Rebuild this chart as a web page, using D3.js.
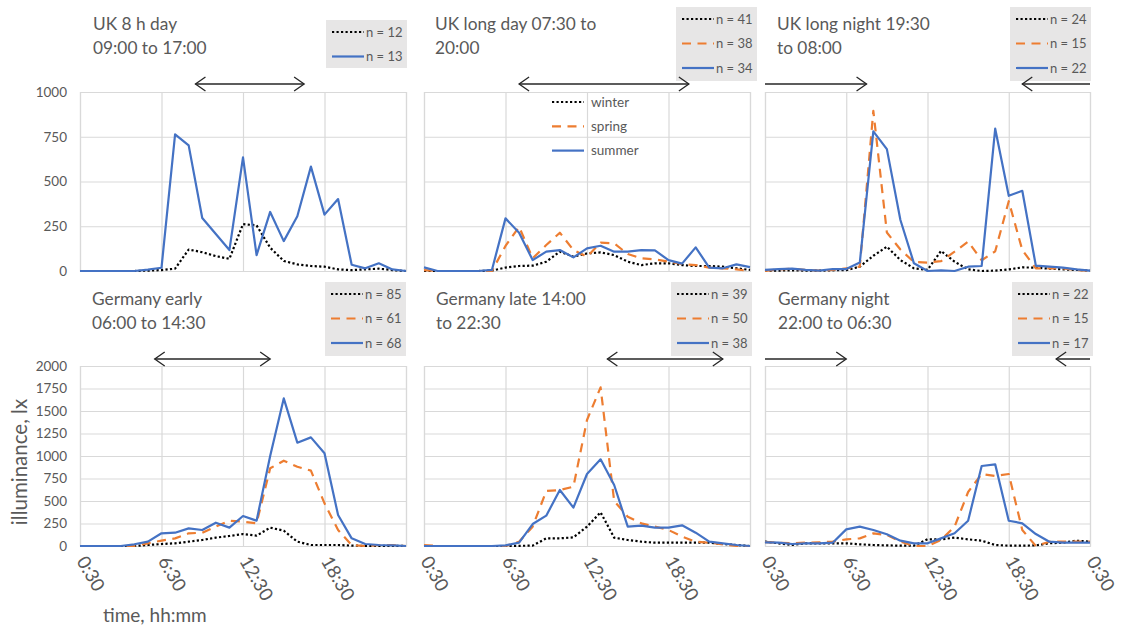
<!DOCTYPE html>
<html><head><meta charset="utf-8">
<script src="https://cdn.jsdelivr.net/npm/d3@7"></script>
<style>
body{margin:0;background:#fff}
text{font-family:Lato,"Open Sans",sans-serif;fill:#595959}
</style>
</head><body>
<svg id="c" width="1122" height="626"></svg>
<script>
// ---- data ----
const hours = [0.5,1.5,2.5,3.5,4.5,5.5,6.5,7.5,8.5,9.5,10.5,11.5,12.5,13.5,14.5,15.5,16.5,17.5,18.5,19.5,20.5,21.5,22.5,23.5,24.5];
const xTickValues = [0.5,6.5,12.5,18.5,24.5];
const xTickLabels = ["0:30","6:30","12:30","18:30","0:30"];
const yTicksTop = [0,250,500,750,1000];
const yTicksBottom = [0,250,500,750,1000,1250,1500,1750,2000];
const seasons = ["winter","spring","summer"];

const uk8Winter  = [0,0,0,0,0,2,5,13,120,105,83,68,262,255,130,56,37,28,24,9,5,9,13,5,0];
const uk8Summer  = [0,0,0,0,0,8,18,763,702,296,207,117,635,89,330,167,306,583,315,402,35,15,43,9,0];

const ukDayWinter = [0,0,0,0,0,2,19,28,30,52,108,80,98,104,89,52,33,43,43,33,28,28,24,15,6];
const ukDaySpring = [5,0,0,0,0,0,140,247,71,145,214,117,80,158,154,95,71,65,52,39,33,19,15,9,0];
const ukDaySummer = [20,0,0,0,0,6,294,214,61,108,117,76,126,141,108,108,117,115,61,41,132,19,15,37,22];

const ukNightWinter = [2,2,4,2,2,4,5,24,85,136,61,15,6,112,52,9,0,2,9,20,19,13,9,6,2];
const ukNightSpring = [0,9,13,6,2,6,15,24,895,215,120,50,47,55,108,164,60,110,390,117,15,15,15,6,0];
const ukNightSummer = [6,10,13,6,2,11,11,47,780,681,285,43,0,4,0,24,28,795,420,448,30,24,19,9,2];

const deEarlyWinter = [0,0,0,0,0,11,22,30,48,67,93,111,133,115,204,170,48,11,11,11,4,2,0,2,0];
const deEarlySpring = [0,0,0,0,0,30,59,85,141,148,215,281,270,252,863,948,881,837,474,178,11,0,11,11,0];
const deEarlySummer = [0,0,0,0,19,48,141,148,196,178,259,204,333,281,1000,1640,1148,1207,1030,344,85,22,11,7,0];

const deLateWinter = [0,0,0,0,0,0,0,2,4,85,85,96,215,374,93,67,48,37,37,37,37,37,22,11,0];
const deLateSpring = [11,0,0,0,0,0,0,48,215,611,622,659,1400,1763,500,326,252,215,178,104,48,37,19,0,0];
const deLateSummer = [0,0,0,0,0,0,7,37,244,337,622,426,800,963,678,215,226,204,204,230,148,48,30,11,0];

const deNightWinter = [48,30,11,30,30,30,30,19,11,7,4,4,74,74,93,74,59,11,4,4,7,30,37,59,48];
const deNightSpring = [44,37,30,37,41,48,74,85,141,122,48,0,0,67,215,600,800,778,800,178,0,48,48,48,48];
const deNightSummer = [41,37,22,30,30,37,185,215,178,130,59,30,30,85,141,281,889,907,281,252,133,48,37,37,37];

const titles = [
  ["UK 8 h day","09:00 to 17:00"],
  ["UK long day 07:30 to","20:00"],
  ["UK long night 19:30","to 08:00"],
  ["Germany early","06:00 to 14:30"],
  ["Germany late 14:00","to 22:30"],
  ["Germany night","22:00 to 06:30"]
];
const nCounts = [
  [12,null,13],
  [41,38,34],
  [24,15,22],
  [85,61,68],
  [39,50,38],
  [22,15,17]
];
const shifts = [[9,17],[7.5,20],[19.5,8],[6,14.5],[14,22.5],[22,6.5]];
const seriesSets = [
  [uk8Winter,null,uk8Summer],
  [ukDayWinter,ukDaySpring,ukDaySummer],
  [ukNightWinter,ukNightSpring,ukNightSummer],
  [deEarlyWinter,deEarlySpring,deEarlySummer],
  [deLateWinter,deLateSpring,deLateSummer],
  [deNightWinter,deNightSpring,deNightSummer]
];

// ---- styles ----
const styles = {
  winter:{stroke:"#000000",dash:"2.2,2.3",w:2.2},
  spring:{stroke:"#ED7D31",dash:"9,6.5",w:2.2},
  summer:{stroke:"#4472C4",dash:null,w:2.2}
};

// ---- layout ----
const cols = [[80,406],[424,750],[765,1090]];
const rows = [{top:92,bot:271,max:1000,ticks:yTicksTop,arrowY:84,titleY:30,legTop:7},
              {top:366,bot:546,max:2000,ticks:yTicksBottom,arrowY:359,titleY:305,legTop:282}];
const titleX = [93,435,777,92,436,778];
const legX = [326,676,1010,325,671,1012];

const svg = d3.select("#c");

function arrowHead(g, x, y, dir){
  g.append("path").attr("d",`M${x-dir*10},${y-7}L${x},${y}L${x-dir*10},${y+7}`)
   .attr("fill","none").attr("stroke","#262626").attr("stroke-width",1.3);
}

for(let p=0;p<6;p++){
  const r = rows[Math.floor(p/3)], c = cols[p%3], col = p%3, rowI = Math.floor(p/3);
  const x = d3.scaleLinear().domain([0.5,24.5]).range(c);
  const y = d3.scaleLinear().domain([0,r.max]).range([r.bot,r.top]);
  const g = svg.append("g");

  const ya = d3.axisLeft(y).tickValues(r.ticks).tickSize(-(c[1]-c[0])).tickPadding(13)
     .tickFormat(col===0 ? d3.format("d") : ()=>"");
  const yg = g.append("g").attr("transform",`translate(${c[0]},0)`).call(ya);
  yg.select(".domain").remove();
  yg.selectAll("line").attr("stroke","#D9D9D9").attr("stroke-width",1.2);
  yg.selectAll("text").style("font-size","13.5px").attr("fill","#595959");

  const xa = d3.axisBottom(x).tickValues(xTickValues).tickSize(-(r.bot-r.top)).tickFormat("");
  const xg = g.append("g").attr("transform",`translate(0,${r.bot})`).call(xa);
  xg.select(".domain").attr("stroke","#D9D9D9").attr("stroke-width",1.2);
  xg.selectAll("line").attr("stroke","#D9D9D9").attr("stroke-width",1.2);

  if(rowI===1){
    xTickValues.forEach((v,i)=>{
      if(i===4 && col!==2) return;
      g.append("text").attr("transform",`translate(${x(v)-4},${r.bot+15}) rotate(60)`)
        .attr("text-anchor","start").style("font-size","18.5px").text(xTickLabels[i]);
    });
  }

  const line = d3.line().x((d,i)=>x(hours[i])).y(d=>y(d));
  seriesSets[p].forEach((arr,si)=>{
    if(!arr) return;
    const st = styles[seasons[si]];
    g.append("path").datum(arr).attr("d",line).attr("fill","none")
      .attr("stroke",st.stroke).attr("stroke-width",st.w)
      .attr("stroke-dasharray",st.dash).attr("stroke-linejoin","round");
  });

  titles[p].forEach((t,i)=>{
    svg.append("text").attr("x",titleX[p]).attr("y",r.titleY+i*24).style("font-size","17.3px").text(t);
  });

  const entries = nCounts[p].map((n,i)=>({n,s:seasons[i]})).filter(d=>d.n!==null);
  const lg = svg.append("g");
  let boxTop, boxH, step = 24.5;
  if(entries.length===2){ boxTop = 20; boxH = 48; } else { boxTop = r.legTop; boxH = 74; }
  lg.append("rect").attr("x",legX[p]).attr("y",boxTop).attr("width",81).attr("height",boxH).attr("fill","#E7E6E6");
  entries.forEach((e,i)=>{
    const yy = boxTop + 12 + i*step;
    const st = styles[e.s];
    lg.append("line").attr("x1",legX[p]+6).attr("x2",legX[p]+38).attr("y1",yy).attr("y2",yy)
      .attr("stroke",st.stroke).attr("stroke-width",st.w).attr("stroke-dasharray",st.dash);
    lg.append("text").attr("x",legX[p]+40).attr("y",yy).attr("dy","0.35em").style("font-size","13px").text("n = "+e.n);
  });

  const [s0,s1] = shifts[p];
  const ay = r.arrowY;
  const ag = svg.append("g");
  if(s0 < s1){
    ag.append("line").attr("x1",x(s0)).attr("x2",x(s1)).attr("y1",ay).attr("y2",ay).attr("stroke","#262626").attr("stroke-width",1.3);
    arrowHead(ag,x(s0),ay,-1); arrowHead(ag,x(s1),ay,1);
  } else {
    ag.append("line").attr("x1",c[0]).attr("x2",x(s1)).attr("y1",ay).attr("y2",ay).attr("stroke","#262626").attr("stroke-width",1.3);
    arrowHead(ag,x(s1),ay,1);
    ag.append("line").attr("x1",c[1]).attr("x2",x(s0)).attr("y1",ay).attr("y2",ay).attr("stroke","#262626").attr("stroke-width",1.3);
    arrowHead(ag,x(s0),ay,-1);
  }
}

const sl = svg.append("g");
seasons.forEach((s,i)=>{
  const yy = 102 + i*24.3, st = styles[s];
  sl.append("line").attr("x1",552).attr("x2",584).attr("y1",yy).attr("y2",yy)
    .attr("stroke",st.stroke).attr("stroke-width",st.w).attr("stroke-dasharray",st.dash);
  sl.append("text").attr("x",591).attr("y",yy).attr("dy","0.35em").style("font-size","13.5px").text(s);
});

svg.append("text").attr("transform","translate(27,462) rotate(-90)").attr("text-anchor","middle")
  .style("font-size","20.5px").text("illuminance, lx");
svg.append("text").attr("x",103).attr("y",622).style("font-size","19px").text("time, hh:mm");
</script>
</body></html>
